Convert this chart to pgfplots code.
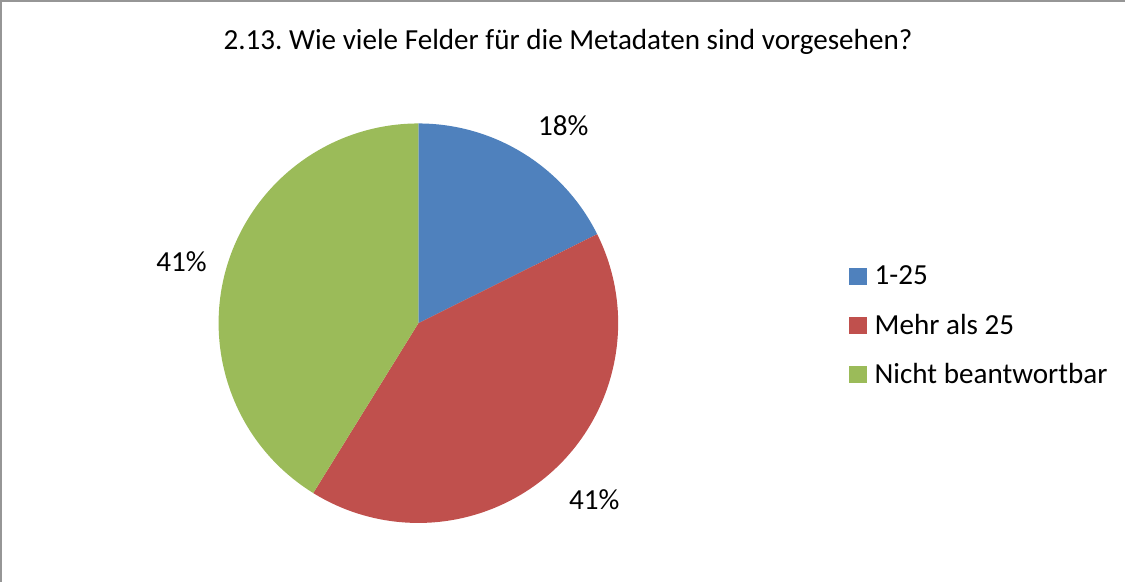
\documentclass[border=0pt]{standalone}
\usepackage{pgfplots}
\usepackage{pgfplotstable}
\pgfplotsset{compat=1.18}
\usepackage{fontspec}
\setmainfont{Carlito}
\frenchspacing
\definecolor{pieblue}{RGB}{79,129,189}
\definecolor{piered}{RGB}{192,80,77}
\definecolor{piegreen}{RGB}{155,187,89}
\definecolor{framegray}{RGB}{150,150,150}

% counts per answer (3 of 17, 7 of 17, 7 of 17)
\pgfplotstableread{
value
3
7
7
}\piedata
\pgfplotstablegetelem{0}{value}\of\piedata \let\va\pgfplotsretval
\pgfplotstablegetelem{1}{value}\of\piedata \let\vb\pgfplotsretval
\pgfplotstablegetelem{2}{value}\of\piedata \let\vc\pgfplotsretval
\pgfmathsetmacro\total{\va+\vb+\vc}
\pgfmathsetmacro\aA{90}
\pgfmathsetmacro\aB{\aA-360*\va/\total}
\pgfmathsetmacro\aC{\aB-360*\vb/\total}
\pgfmathsetmacro\aD{\aC-360*\vc/\total}
\def\cx{421}
\def\cy{257.8}
\def\rr{199}

\begin{document}
\begin{tikzpicture}
\begin{axis}[
  width=1125bp, height=582bp, scale only axis,
  xmin=0, xmax=1125, ymin=0, ymax=582,
  hide axis, clip=true,
  legend style={at={(axis cs:850,315)}, anchor=north west, draw=none, fill=none,
    font=\fontsize{29bp}{35bp}\selectfont, inner sep=0pt, row sep=27.5bp,
    nodes={inner sep=0pt},
    /tikz/every odd column/.append style={column sep=8.5bp}},
  legend cell align=left,
  legend image code/.code={\fill[#1] (0bp,-8bp) rectangle (16.5bp,8bp);},
]
\addlegendimage{pieblue}\addlegendentry{1-25}
\addlegendimage{piered}\addlegendentry{Mehr als 25}
\addlegendimage{piegreen}\addlegendentry{Nicht beantwortbar}

\fill[pieblue] (axis cs:\cx,\cy) -- (axis cs:{\cx+\rr*cos(\aA)},{\cy+\rr*sin(\aA)})
   arc[start angle=\aA, end angle=\aB, radius=\rr bp] -- cycle;
\fill[piered] (axis cs:\cx,\cy) -- (axis cs:{\cx+\rr*cos(\aB)},{\cy+\rr*sin(\aB)})
   arc[start angle=\aB, end angle=\aC, radius=\rr bp] -- cycle;
\fill[piegreen] (axis cs:\cx,\cy) -- (axis cs:{\cx+\rr*cos(\aC)},{\cy+\rr*sin(\aC)})
   arc[start angle=\aC, end angle=\aD, radius=\rr bp] -- cycle;

\node[font=\fontsize{29bp}{35bp}\selectfont] at (axis cs:565.3,455) {18\%};
\node[font=\fontsize{29bp}{35bp}\selectfont] at (axis cs:596.3,81.5) {41\%};
\node[font=\fontsize{29bp}{35bp}\selectfont] at (axis cs:185,318.6) {41\%};

\node[font=\fontsize{29bp}{35bp}\selectfont, anchor=base] at (axis cs:570,530.3)
  {2.13. Wie viele Felder für die Metadaten sind vorgesehen?};

\draw[framegray, line width=1.6bp] (axis cs:5,-20) -- (axis cs:5,579) -- (axis cs:1150,579);
\end{axis}
\end{tikzpicture}
\end{document}
